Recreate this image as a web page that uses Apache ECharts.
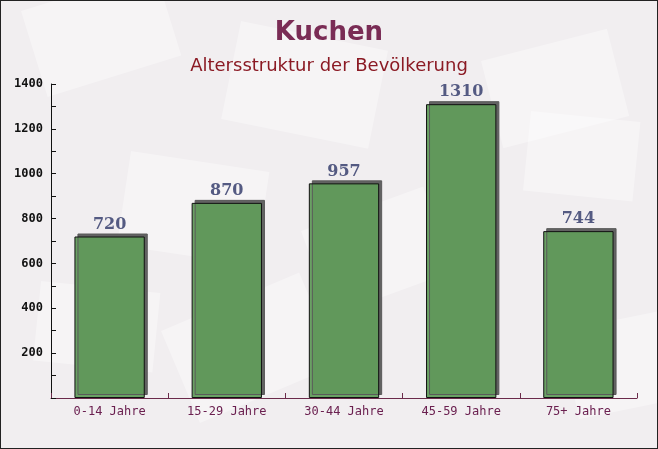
<!DOCTYPE html>
<html>
<head>
<meta charset="utf-8">
<script src="https://cdn.jsdelivr.net/npm/echarts@6/dist/echarts.min.js"></script>
<style>
  html, body { margin: 0; padding: 0; }
  #chart { width: 658px; height: 449px; box-sizing: border-box; border: 1px solid #222; background: #f1eef0; }
</style>
</head>
<body>
<div id="chart"></div>
<script>
// Daten
var categories = ['0-14 Jahre', '15-29 Jahre', '30-44 Jahre', '45-59 Jahre', '75+ Jahre'];
var values = [720, 870, 957, 1310, 744];
var yTicks = [0, 200, 400, 600, 800, 1000, 1200, 1400];

var myChart = echarts.init(document.getElementById('chart'));

// blasse Briefumschläge im Hintergrund
function envelope(x, y, w, h, rot) {
    return {
        type: 'rect', x: x, y: y, rotation: rot, silent: true, z: -10,
        shape: { x: 0, y: 0, width: w, height: h },
        style: { fill: 'rgba(255,255,255,0.35)' }
    };
}

var option = {
    animation: false,
    backgroundColor: 'transparent',
    graphic: [
        envelope(20, 10, 140, 90, 0.3),
        envelope(240, 20, 150, 100, -0.2),
        envelope(480, 60, 130, 90, 0.25),
        envelope(130, 150, 140, 95, -0.15),
        envelope(530, 110, 110, 80, -0.1),
        envelope(300, 230, 130, 90, 0.35),
        envelope(40, 280, 120, 80, -0.1),
        envelope(160, 330, 150, 100, 0.4),
        envelope(560, 330, 110, 90, 0.2)
    ],
    title: [{
        text: 'Kuchen',
        left: 'center',
        top: 14,
        textStyle: { fontFamily: 'DejaVu Sans', fontWeight: 'bold', fontSize: 26, color: '#7a2c55' }
    }, {
        text: 'Altersstruktur der Bevölkerung',
        left: 'center',
        top: 51,
        textStyle: { fontFamily: 'DejaVu Sans', fontWeight: 'normal', fontSize: 18, color: '#8b1a24' }
    }],
    grid: { left: 50, right: 20, top: 83, bottom: 50 },
    xAxis: {
        type: 'category',
        data: categories,
        axisLine: { lineStyle: { color: '#6b2a4a', width: 1 } },
        axisTick: { show: true, inside: true, length: 5, lineStyle: { color: '#6b2a4a' } },
        axisLabel: { fontFamily: 'DejaVu Sans Mono', fontSize: 12, color: '#6b2050', margin: 8 }
    },
    yAxis: {
        type: 'value',
        min: yTicks[0],
        max: yTicks[yTicks.length - 1],
        interval: 200,
        axisLine: { show: true, lineStyle: { color: '#111' } },
        axisTick: { show: true, inside: true, length: 5, lineStyle: { color: '#111' } },
        minorTick: { show: true, splitNumber: 2, length: 5, lineStyle: { color: '#111' } },
        splitLine: { show: false },
        axisLabel: {
            fontFamily: 'DejaVu Sans Mono', fontWeight: 'bold', fontSize: 12, color: '#111', margin: 8,
            formatter: function (v) { return v === 0 ? '' : String(v); }
        }
    },
    series: [{
        type: 'bar',
        data: values,
        barWidth: '60%',
        itemStyle: {
            color: 'rgba(98,156,92,0.95)',
            borderColor: '#111',
            borderWidth: 1,
            shadowColor: '#5a5a5a',
            shadowBlur: 0,
            shadowOffsetX: 3,
            shadowOffsetY: -3
        },
        label: {
            show: true,
            position: 'top',
            distance: 4,
            fontFamily: 'DejaVu Serif',
            fontWeight: 'bold',
            fontSize: 16,
            color: '#545a82'
        }
    }]
};

myChart.setOption(option);
</script>
</body>
</html>
